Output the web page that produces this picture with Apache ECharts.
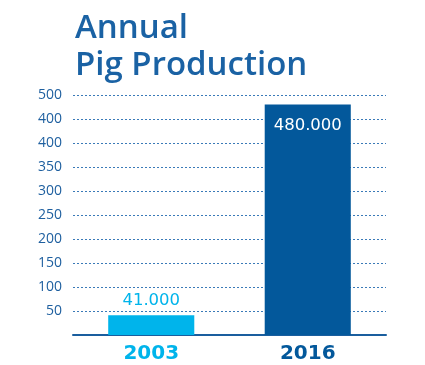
<!DOCTYPE html>
<html><head><meta charset="utf-8">
<script src="https://cdn.jsdelivr.net/npm/echarts@6/dist/echarts.min.js"></script>
<style>html,body{margin:0;padding:0;background:#fff}#c{width:425px;height:365px}</style>
</head><body><div id="c"></div>
<script>
const categories = ['2003', '2016'];
const values = [41, 480];
const valueLabels = ['41.000', '480.000'];
const tickLabels = ['', '50', '100', '150', '200', '250', '300', '350', '400', '400', '500'];
const barColors = ['#00b4eb', '#03589b'];
const titleLines = ['Annual', 'Pig Production'];

const chart = echarts.init(document.getElementById('c'), null, {renderer: 'canvas'});
chart.setOption({
  animation: false,
  title: {
    text: titleLines.join('\n'),
    left: 70, top: 5,
    textStyle: {fontFamily: 'Open Sans', fontWeight: 600, fontSize: 33, color: '#1a62a4', lineHeight: 37}
  },
  grid: {left: 73, right: 39, top: 95, bottom: 30, containLabel: false},
  xAxis: {
    type: 'category', data: categories,
    axisLine: {lineStyle: {color: '#1a5e9e', width: 2}},
    axisTick: {show: false},
    axisLabel: {
      margin: 9,
      formatter: (v, i) => '{c' + i + '|' + v + '}',
      rich: {c0: {color: barColors[0], fontFamily: 'DejaVu Sans', fontWeight: 'bold', fontSize: 20},
             c1: {color: barColors[1], fontFamily: 'DejaVu Sans', fontWeight: 'bold', fontSize: 20}}
    }
  },
  yAxis: {
    type: 'value', min: 0, max: 500, interval: 50,
    axisLine: {show: false}, axisTick: {show: false},
    axisLabel: {
      margin: 11, fontFamily: 'Open Sans', fontSize: 14, color: '#1e5f9f',
      formatter: v => tickLabels[Math.round(v / 50)]
    },
    splitLine: {lineStyle: {color: '#3a7ab8', type: [2, 2], width: 1}}
  },
  series: [{
    type: 'bar', barWidth: '55%',
    data: values.map((v, i) => ({
      value: v,
      itemStyle: {color: barColors[i]},
      label: i === 0
        ? {show: true, position: 'top', distance: 6, color: barColors[0], fontSize: 16.5, fontFamily: 'DejaVu Sans', formatter: valueLabels[i]}
        : {show: true, position: 'insideTop', distance: 13, color: '#ffffff', fontSize: 16.5, fontFamily: 'DejaVu Sans', formatter: valueLabels[i]}
    }))
  }]
});
</script></body></html>
